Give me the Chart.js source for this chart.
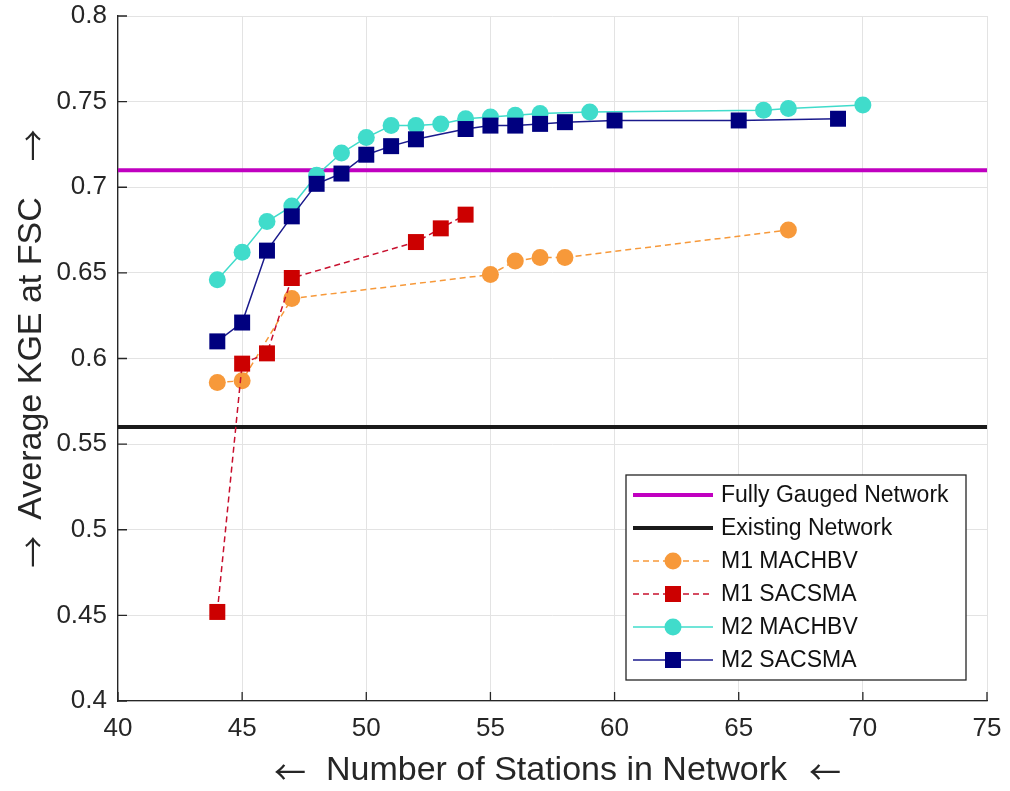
<!DOCTYPE html>
<html>
<head>
<meta charset="utf-8">
<script src="https://cdn.jsdelivr.net/npm/chart.js@4.4.1/dist/chart.umd.min.js"></script>
<style>
  html, body { margin: 0; padding: 0; background: #fff; }
  #wrap { width: 1010px; height: 791px; position: relative; }
</style>
</head>
<body>
<div id="wrap"><canvas id="kge"></canvas></div>
<script>
// reference levels
var fullyGauged = 0.71;
var existingNet = 0.56;
var xRange = [40, 75];

// M1 MACHBV
var m1MachbvX = [44, 45, 47, 55, 56, 57, 58, 67];
var m1MachbvY = [0.586, 0.587, 0.635, 0.649, 0.657, 0.659, 0.659, 0.675];
// M1 SACSMA
var m1SacsmaX = [44, 45, 46, 47, 52, 53, 54];
var m1SacsmaY = [0.452, 0.597, 0.603, 0.647, 0.668, 0.676, 0.684];
// M2 MACHBV
var m2MachbvX = [44, 45, 46, 47, 48, 49, 50, 51, 52, 53, 54, 55, 56, 57, 59, 66, 67, 70];
var m2MachbvY = [0.646, 0.662, 0.680, 0.689, 0.707, 0.720, 0.729, 0.736, 0.736, 0.737, 0.740, 0.741, 0.742, 0.743, 0.744, 0.745, 0.746, 0.748];
// M2 SACSMA
var m2SacsmaX = [44, 45, 46, 47, 48, 49, 50, 51, 52, 54, 55, 56, 57, 58, 60, 65, 69];
var m2SacsmaY = [0.610, 0.621, 0.663, 0.683, 0.702, 0.708, 0.719, 0.724, 0.728, 0.734, 0.736, 0.736, 0.737, 0.738, 0.739, 0.739, 0.740];

var yTicks = [0.4, 0.45, 0.5, 0.55, 0.6, 0.65, 0.7, 0.75, 0.8];
var xTicks = [40, 45, 50, 55, 60, 65, 70, 75];

var xTitle = 'Number of Stations in Network';
var yTitle = 'Average KGE at FSC';

function pts(xs, ys) {
  return xs.map(function (x, i) { return { x: x, y: ys[i] }; });
}

var FONT = "'Liberation Sans', Arial, Helvetica, sans-serif";
var ARROWFONT = "'Noto Sans CJK SC', 'DejaVu Sans', sans-serif";
var INK = '#262626';

// title with arrows on both ends, drawn centered at (0,0) in current transform
function arrowTitle(ctx, text, larrow, rarrow, lgap, rgap) {
  ctx.font = '34px ' + FONT;
  var tw = ctx.measureText(text).width;
  ctx.textBaseline = 'middle';
  ctx.textAlign = 'center';
  ctx.fillText(text, 0, 0);
  ctx.font = '32px ' + ARROWFONT;
  ctx.textAlign = 'right';
  ctx.fillText(larrow, -tw / 2 - lgap, 1);
  ctx.textAlign = 'left';
  ctx.fillText(rarrow, tw / 2 + rgap, 1);
}

// inward ticks, axis titles and legend box
var decor = {
  id: 'decor',
  afterDraw: function (chart) {
    var ctx = chart.ctx, a = chart.chartArea;
    var xs = chart.scales.x, ys = chart.scales.y;
    ctx.save();
    ctx.strokeStyle = INK;
    ctx.lineWidth = 1.3;
    ctx.beginPath();
    xTicks.forEach(function (v) {
      var px = xs.getPixelForValue(v);
      ctx.moveTo(px, a.bottom); ctx.lineTo(px, a.bottom - 9);
    });
    yTicks.forEach(function (v) {
      var py = ys.getPixelForValue(v);
      ctx.moveTo(a.left, py); ctx.lineTo(a.left + 9, py);
    });
    ctx.stroke();

    // axis titles
    ctx.fillStyle = INK;
    ctx.save();
    ctx.translate((a.left + a.right) / 2 + 4, a.bottom + 70);
    arrowTitle(ctx, xTitle, '\u2190', '\u2190', 20, 22);
    ctx.restore();
    ctx.save();
    ctx.translate(32, (a.top + a.bottom) / 2);
    ctx.rotate(-Math.PI / 2);
    arrowTitle(ctx, yTitle, '\u2192', '\u2192', 16, 36);
    ctx.restore();

    // legend
    var w = 340, h = 205;
    var lx = a.right - 21 - w, ly = a.bottom - 21 - h;
    ctx.fillStyle = '#fff';
    ctx.fillRect(lx, ly, w, h);
    ctx.lineWidth = 1.3;
    ctx.strokeStyle = INK;
    ctx.strokeRect(lx, ly, w, h);
    ctx.font = '23px ' + FONT;
    ctx.textBaseline = 'middle';
    ctx.textAlign = 'left';
    chart.data.datasets.forEach(function (ds, i) {
      var ry = ly + 20 + i * 33;
      ctx.save();
      ctx.strokeStyle = ds.borderColor;
      ctx.lineWidth = ds.borderWidth;
      ctx.setLineDash(ds.borderDash || []);
      ctx.beginPath();
      ctx.moveTo(lx + 7, ry); ctx.lineTo(lx + 87, ry);
      ctx.stroke();
      ctx.restore();
      if (ds.pointRadius > 0) {
        ctx.fillStyle = ds.pointBackgroundColor;
        if (ds.pointStyle === 'rect') {
          ctx.fillRect(lx + 47 - 8, ry - 8, 16, 16);
        } else {
          ctx.beginPath();
          ctx.arc(lx + 47, ry, ds.pointRadius, 0, Math.PI * 2);
          ctx.fill();
        }
      }
      ctx.fillStyle = '#111';
      ctx.fillText(ds.label, lx + 95, ry + 1);
    });
    ctx.restore();
  }
};

new Chart(document.getElementById('kge').getContext('2d'), {
  type: 'line',
  data: {
    datasets: [
      { label: 'Fully Gauged Network', data: pts(xRange, [fullyGauged, fullyGauged]),
        borderColor: '#C000C0', borderWidth: 4, pointRadius: 0, order: 6 },
      { label: 'Existing Network', data: pts(xRange, [existingNet, existingNet]),
        borderColor: '#1a1a1a', borderWidth: 4, pointRadius: 0, order: 5 },
      { label: 'M1 MACHBV', data: pts(m1MachbvX, m1MachbvY),
        borderColor: '#F7993A', borderWidth: 1.5, borderDash: [6, 4],
        pointStyle: 'circle', pointRadius: 8.5, pointBackgroundColor: '#F7993A',
        pointBorderColor: '#F7993A', pointBorderWidth: 0, order: 4 },
      { label: 'M1 SACSMA', data: pts(m1SacsmaX, m1SacsmaY),
        borderColor: '#C8102E', borderWidth: 1.5, borderDash: [6, 4],
        pointStyle: 'rect', pointRadius: 11.3, pointBackgroundColor: '#CC0000',
        pointBorderColor: '#CC0000', pointBorderWidth: 0, order: 3 },
      { label: 'M2 MACHBV', data: pts(m2MachbvX, m2MachbvY),
        borderColor: '#40DCCB', borderWidth: 1.5,
        pointStyle: 'circle', pointRadius: 8.5, pointBackgroundColor: '#40DCCB',
        pointBorderColor: '#40DCCB', pointBorderWidth: 0, order: 2 },
      { label: 'M2 SACSMA', data: pts(m2SacsmaX, m2SacsmaY),
        borderColor: '#1A1A8C', borderWidth: 1.5,
        pointStyle: 'rect', pointRadius: 11.3, pointBackgroundColor: '#00007F',
        pointBorderColor: '#00007F', pointBorderWidth: 0, order: 1 }
    ]
  },
  options: {
    responsive: true, maintainAspectRatio: false, animation: false,
    layout: { padding: { left: 0, right: 23, top: 16, bottom: 0 } },
    plugins: { legend: { display: false }, tooltip: { enabled: false } },
    elements: { line: { tension: 0 } },
    scales: {
      x: {
        type: 'linear', min: 40, max: 75,
        afterBuildTicks: function (s) { s.ticks = xTicks.map(function (v) { return { value: v }; }); },
        afterFit: function (s) { s.height = 90; s.paddingLeft = 0; s.paddingRight = 0; },
        grid: { color: '#e3e3e3', lineWidth: 1, drawTicks: false },
        border: { display: true, color: INK, width: 1.3 },
        ticks: { color: INK, padding: 12, maxRotation: 0, font: { family: FONT, size: 26 } }
      },
      y: {
        type: 'linear', min: 0.4, max: 0.8,
        afterBuildTicks: function (s) { s.ticks = yTicks.map(function (v) { return { value: v }; }); },
        afterFit: function (s) { s.width = 118; s.paddingTop = 0; s.paddingBottom = 0; },
        grid: { color: '#e3e3e3', lineWidth: 1, drawTicks: false },
        border: { display: true, color: INK, width: 1.3 },
        ticks: { color: INK, padding: 11, font: { family: FONT, size: 26 },
                 callback: function (v) { return String(Number(v.toFixed(2))); } }
      }
    }
  },
  plugins: [decor]
});
</script>
</body>
</html>
